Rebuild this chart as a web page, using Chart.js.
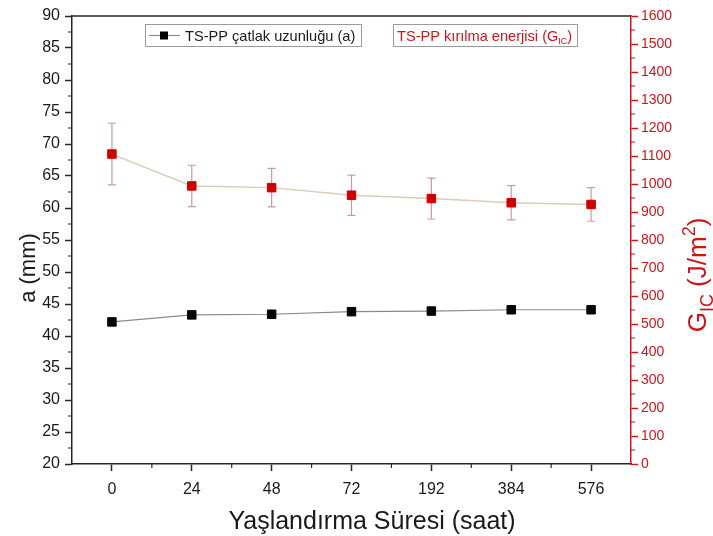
<!DOCTYPE html>
<html>
<head>
<meta charset="utf-8">
<script src="https://cdn.jsdelivr.net/npm/chart.js@4/dist/chart.umd.min.js"></script>
<style>
  html, body { margin: 0; padding: 0; background: #fff; }
  #wrap { width: 713px; height: 536px; }
</style>
</head>
<body>
<div id="wrap"><canvas id="c" width="713" height="536"></canvas></div>
<script>
// Aging time categories (hours)
const agingHours = ['0', '24', '48', '72', '192', '384', '576'];
// Crack length a (mm), left axis
const crackLength = [42.2, 43.3, 43.4, 43.8, 43.9, 44.1, 44.1];
// Fracture energy G_IC (J/m^2), right axis, with standard deviation
const fractureEnergy = [1107, 993, 987, 960, 948, 933, 927];
const fractureEnergyErr = [110, 74, 69, 72, 73, 61, 60];

// Axis ranges
const leftAxisRange = [20, 90];
const rightAxisRange = [0, 1600];

const FONT = "'Liberation Sans', Arial, Helvetica, sans-serif";
const RED = '#c8161d';
const AXIS_DARK = '#262626';

// Draws text runs with optional subscript / superscript parts
function drawRich(ctx, parts, x, y, size, color, align, ratio) {
  ctx.save();
  ctx.fillStyle = color;
  ctx.textBaseline = 'alphabetic';
  ctx.textAlign = 'left';
  const small = Math.round(size * (ratio || 0.62));
  let total = 0;
  for (const p of parts) {
    ctx.font = (p.sub || p.sup ? small : size) + 'px ' + FONT;
    total += ctx.measureText(p.t).width;
  }
  let cx = align === 'center' ? x - total / 2 : x;
  for (const p of parts) {
    const s = p.sub || p.sup ? small : size;
    ctx.font = s + 'px ' + FONT;
    let dy = 0;
    if (p.sub) dy = size * 0.25;
    if (p.sup) dy = -size * 0.42;
    ctx.fillText(p.t, cx, y + dy);
    cx += ctx.measureText(p.t).width;
  }
  ctx.restore();
  return total;
}

const decorPlugin = {
  id: 'decor',
  beforeDatasetsDraw(chart) {
    // error bars for fracture energy
    const ctx = chart.ctx;
    const meta = chart.getDatasetMeta(1);
    const yR = chart.scales.yR;
    ctx.save();
    ctx.strokeStyle = '#c99aa2';
    ctx.lineWidth = 1.2;
    meta.data.forEach((pt, i) => {
      const v = fractureEnergy[i], e = fractureEnergyErr[i];
      const yTop = yR.getPixelForValue(v + e);
      const yBot = yR.getPixelForValue(v - e);
      const x = pt.x;
      ctx.beginPath();
      ctx.moveTo(x, yTop); ctx.lineTo(x, yBot);
      ctx.moveTo(x - 4, yTop); ctx.lineTo(x + 4, yTop);
      ctx.moveTo(x - 4, yBot); ctx.lineTo(x + 4, yBot);
      ctx.stroke();
    });
    ctx.restore();
  },
  afterDraw(chart) {
    const ctx = chart.ctx;
    const a = chart.chartArea;
    const yL = chart.scales.yL, yR = chart.scales.yR, x = chart.scales.x;

    ctx.save();
    // top frame line
    ctx.strokeStyle = AXIS_DARK;
    ctx.lineWidth = 1.5;
    ctx.beginPath();
    ctx.moveTo(a.left, a.top); ctx.lineTo(a.right, a.top);
    ctx.stroke();

    // minor ticks
    ctx.lineWidth = 1.2;
    ctx.beginPath();
    for (let v = leftAxisRange[0] + 2.5; v < leftAxisRange[1]; v += 5) {
      const py = yL.getPixelForValue(v);
      ctx.moveTo(a.left, py); ctx.lineTo(a.left - 4, py);
    }
    for (let i = 0; i < agingHours.length - 1; i++) {
      const px = (x.getPixelForValue(i) + x.getPixelForValue(i + 1)) / 2;
      ctx.moveTo(px, a.bottom); ctx.lineTo(px, a.bottom + 4);
    }
    ctx.stroke();
    ctx.strokeStyle = RED;
    ctx.beginPath();
    for (let v = rightAxisRange[0] + 50; v < rightAxisRange[1]; v += 100) {
      const py = yR.getPixelForValue(v);
      ctx.moveTo(a.right, py); ctx.lineTo(a.right + 4, py);
    }
    ctx.stroke();

    // axis titles
    ctx.fillStyle = '#1a1a1a';
    ctx.font = '25px ' + FONT;
    ctx.textAlign = 'center';
    ctx.textBaseline = 'middle';
    ctx.fillText('Yaşlandırma Süresi (saat)', 372, 522);

    ctx.save();
    ctx.translate(29, 268);
    ctx.rotate(-Math.PI / 2);
    ctx.font = '22px ' + FONT;
    ctx.fillText('a (mm)', 0, 0);
    ctx.restore();

    ctx.save();
    ctx.translate(706, 275);
    ctx.rotate(-Math.PI / 2);
    drawRich(ctx, [{t: 'G'}, {t: 'IC', sub: true}, {t: ' (J/m'}, {t: '2', sup: true}, {t: ')'}],
      0, 0, 26, RED, 'center', 0.68);
    ctx.restore();

    // legend boxes
    ctx.strokeStyle = '#9a9a9a';
    ctx.lineWidth = 1;
    ctx.strokeRect(145.5, 24.5, 216, 22);
    ctx.strokeRect(393.5, 24.5, 184, 22);

    ctx.strokeStyle = '#8a8a8a';
    ctx.lineWidth = 1.2;
    ctx.beginPath();
    ctx.moveTo(149, 35.5); ctx.lineTo(180, 35.5);
    ctx.stroke();
    ctx.fillStyle = '#000';
    ctx.fillRect(160, 31.5, 8, 8);

    ctx.fillStyle = '#1a1a1a';
    ctx.font = '14.6px ' + FONT;
    ctx.textAlign = 'left';
    ctx.textBaseline = 'alphabetic';
    ctx.fillText('TS-PP çatlak uzunluğu (a)', 185, 40.5);

    drawRich(ctx, [{t: 'TS-PP kırılma enerjisi (G'}, {t: 'IC', sub: true}, {t: ')'}],
      397, 40.5, 14.6, RED, 'left');
    ctx.restore();
  }
};

new Chart(document.getElementById('c'), {
  type: 'line',
  data: {
    labels: agingHours,
    datasets: [
      {
        label: 'TS-PP çatlak uzunluğu (a)',
        data: crackLength,
        yAxisID: 'yL',
        borderColor: '#8a8a8a',
        borderWidth: 1.2,
        pointStyle: 'rect',
        pointRadius: 6,
        pointBackgroundColor: '#050505',
        pointBorderColor: '#050505',
        pointBorderWidth: 1,
        tension: 0
      },
      {
        label: 'TS-PP kırılma enerjisi (GIC)',
        data: fractureEnergy,
        yAxisID: 'yR',
        borderColor: '#dccbb9',
        borderWidth: 1.4,
        pointStyle: 'rect',
        pointRadius: 6,
        pointBackgroundColor: '#cc0000',
        pointBorderColor: '#cc0000',
        pointBorderWidth: 1,
        tension: 0
      }
    ]
  },
  options: {
    responsive: false,
    animation: false,
    layout: { padding: { top: 16, left: 0, right: 0, bottom: 0 } },
    plugins: { legend: { display: false }, tooltip: { enabled: false } },
    scales: {
      x: {
        type: 'category',
        offset: true,
        grid: { drawOnChartArea: false, offset: false, tickLength: 7, tickColor: AXIS_DARK, tickWidth: 1.5 },
        border: { color: AXIS_DARK, width: 1.5 },
        ticks: { color: '#1a1a1a', font: { family: FONT, size: 16 }, padding: 9, maxRotation: 0 },
        afterFit(s) { s.height = 72; }
      },
      yL: {
        type: 'linear',
        position: 'left',
        min: leftAxisRange[0],
        max: leftAxisRange[1],
        grid: { drawOnChartArea: false, tickLength: 7, tickColor: AXIS_DARK, tickWidth: 1.5 },
        border: { color: AXIS_DARK, width: 1.5 },
        ticks: { stepSize: 5, autoSkip: false, color: '#1a1a1a', font: { family: FONT, size: 16 }, padding: 5 },
        afterFit(s) { s.width = 72; }
      },
      yR: {
        type: 'linear',
        position: 'right',
        min: rightAxisRange[0],
        max: rightAxisRange[1],
        grid: { drawOnChartArea: false, tickLength: 7, tickColor: RED, tickWidth: 1.5 },
        border: { color: RED, width: 1.5 },
        ticks: {
          stepSize: 100, autoSkip: false, color: RED, padding: 3,
          font: { family: FONT, size: 14 },
          callback: (v) => String(v)
        },
        afterFit(s) { s.width = 82; }
      }
    }
  },
  plugins: [decorPlugin]
});
</script>
</body>
</html>
